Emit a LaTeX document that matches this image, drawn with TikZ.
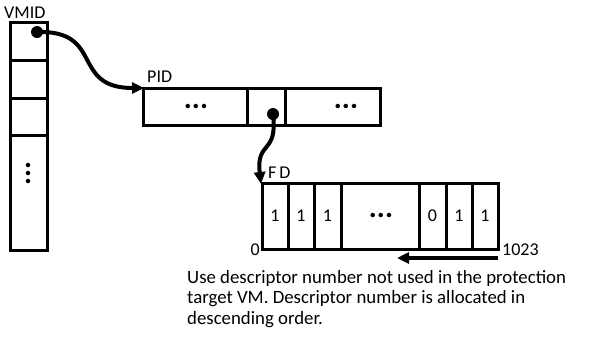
\documentclass[tikz,border=0pt]{standalone}
\usepackage{fontspec}
\setmainfont{Carlito}
\usetikzlibrary{arrows.meta}
\begin{document}
\begin{tikzpicture}[x=1bp,y=-1bp,
  box/.style={draw=black,line width=3bp},
  conn/.style={line width=4bp,-{Triangle[length=12bp,width=11bp]}},
  lbl/.style={font=\fontsize{18bp}{21bp}\selectfont,inner sep=0pt},
  captext/.style={font=\fontsize{18.8bp}{21bp}\selectfont,inner sep=0pt,anchor=base west},
  cell/.style={font=\fontsize{18bp}{21bp}\selectfont,inner sep=0pt},
  dots/.style={font=\bfseries\fontsize{30bp}{30bp}\selectfont,inner sep=0pt}]
\useasboundingbox (0,0) rectangle (595,345);
% VMID column
\draw[box] (10,22) rectangle (47,250);
\draw[box] (10,60) -- (47,60) (10,98) -- (47,98) (10,135) -- (47,135);
\node[lbl,anchor=base west] (vmid) at (4,18) {VMID};
\node[dots,rotate=90] (vd) at (28,173) {...};
% PID row
\draw[box] (143,88) rectangle (380,125);
\draw[box] (247,88) -- (247,125) (285,88) -- (285,125);
\node[lbl,anchor=base west] (pid) at (147,82) {PID};
\node[dots] (pd1) at (196,106) {...};
\node[dots] (pd2) at (346,106) {...};
% FD row
\draw[box] (262,183) rectangle (498,249);
\foreach \x in {288,314,341,419,446,472} \draw[box] (\x,183) -- (\x,249);
\node[lbl,anchor=base west] (fd) at (268,178) {F\,D};
\node[cell] (c1) at (275,216) {1};
\node[cell] (c2) at (301,216) {1};
\node[cell] (c3) at (327.5,216) {1};
\node[dots] (c4) at (381,215) {...};
\node[cell] (c5) at (432.5,216) {0};
\node[cell] (c6) at (459,216) {1};
\node[cell] (c7) at (485,216) {1};
\node[lbl,anchor=base east] (zero) at (260,255) {0};
\node[lbl,anchor=base west] (n1023) at (502,255) {1023};
% connectors
\coordinate (d1) at (37,32);
\coordinate (p0) at (144,88);
\fill (d1) circle (6bp);
\draw[conn] (d1) .. controls (105,30) and (70,88) .. (p0);
\coordinate (d2) at (273,114);
\coordinate (f0) at (261,184);
\fill (d2) circle (6bp);
\draw[conn] (d2) .. controls (278,155) and (256,140) .. (f0);
\coordinate (a1) at (498,258);
\coordinate (a2) at (397,258);
\draw[conn] (a1) -- (a2);
% caption
\node[captext] (cap1) at (187,283) {Use descriptor number not used in the protection};
\node[captext] (cap2) at (187,303.5) {target VM. Descriptor number is allocated in};
\node[captext] (cap3) at (187,324) {descending order.};
\end{tikzpicture}
\end{document}
